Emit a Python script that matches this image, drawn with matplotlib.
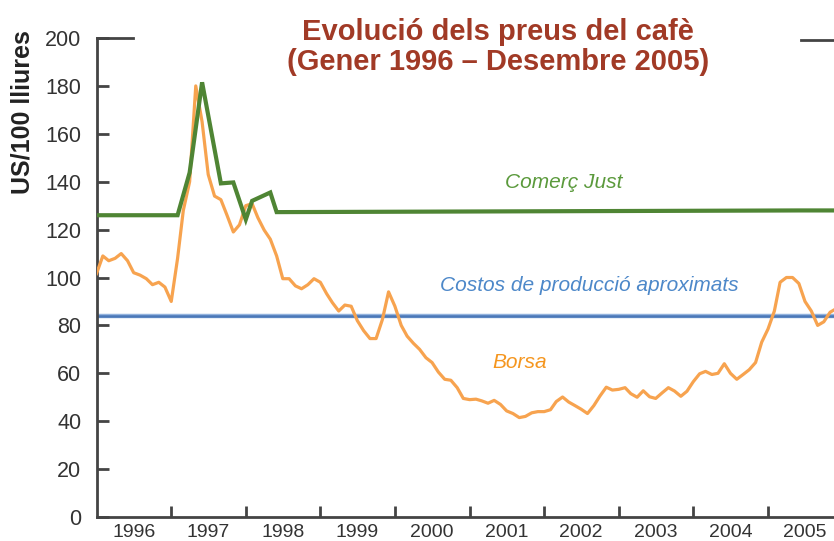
import pandas as pd
import matplotlib
matplotlib.use('Agg')
import matplotlib.pyplot as plt

plt.rcParams['font.family'] = ['Liberation Sans', 'DejaVu Sans']

# monthly market price (Borsa), Jan 1996 - Dec 2005, US cents / lb
months = pd.date_range('1996-01-01', periods=120, freq='MS')
borsa = [101.6, 109, 107, 108, 110, 107, 102, 101, 99.5, 97, 98, 96,
         90, 108, 128, 140, 180, 165, 143, 134, 132.5, 126, 119, 122,
         130, 130.8, 125, 119.8, 116, 109, 99.5, 99.5, 96.5, 95.3, 97, 99.5,
         98, 93.2, 89.5, 86, 88.5, 88, 82, 77.8, 74.5, 74.5, 82.5, 94,
         88, 80, 75.5, 72.5, 70, 66.5, 64.5, 60.5, 57.5, 57.1, 54, 49.5,
         49, 49.2, 48.5, 47.5, 48.7, 47, 44.3, 43.2, 41.5, 42, 43.5, 44,
         44, 44.8, 48.2, 50.1, 48, 46.5, 45, 43.2, 46.5, 50.5, 54.2, 53,
         53.3, 54, 51.5, 50, 52.7, 50.2, 49.5, 51.8, 54, 52.6, 50.4, 52.5,
         56.5, 59.8, 60.8, 59.5, 60, 64, 60, 57.5, 59.5, 61.5, 64.5, 73,
         78.5, 86, 98, 100, 100, 97.5, 90, 86, 80, 81.5, 85.5, 87]

# fair trade price (Comerç Just)
just_dates = pd.to_datetime(['1996-01-01', '1997-02-01', '1997-04-01', '1997-06-01',
                             '1997-09-01', '1997-11-01', '1998-01-01', '1998-02-01',
                             '1998-05-01', '1998-06-01', '2005-06-01', '2005-12-01'])
just = [126, 126, 143.8, 181.5, 139.3, 139.7, 124.2, 132, 135.5, 127.3, 128, 128]

# approximate production cost
cost = 84

years = list(range(1996, 2006))

fig = plt.figure(figsize=(8.34, 5.41), dpi=100)
ax = fig.add_axes([96.5 / 834, 24 / 541, 1 - 96.5 / 834, 479 / 541])

ax.axhline(cost, color='#93b3de', lw=3.2, zorder=2)
ax.axhline(cost, color='#4a78b8', lw=1.8, zorder=2)
ax.plot(months, borsa, color='#f7a34f', lw=2.3, solid_joinstyle='round', zorder=3)
ax.plot(just_dates, just, color='#4f8534', lw=3.0, solid_joinstyle='miter', zorder=4)

ax.text(pd.Timestamp('2002-04-07'), 139.5, 'Comerç Just', color='#5b9a3c',
        style='italic', fontsize=15, ha='center', va='center')
ax.text(pd.Timestamp('2002-08-12'), 96.7, 'Costos de producció aproximats', color='#4d88c9',
        style='italic', fontsize=15, ha='center', va='center')
ax.text(pd.Timestamp('2001-09-05'), 64.6, 'Borsa', color='#f5961f',
        style='italic', fontsize=15, ha='center', va='center')

ax.set_ylim(0, 200)
ax.set_xlim(pd.Timestamp('1996-01-01'), pd.Timestamp('2005-11-20'))
ax.set_yticks(range(0, 201, 20))

ax.set_xticks([pd.Timestamp(f'{y}-01-01') for y in years[1:]])
ax.set_xticks([pd.Timestamp(f'{y}-07-01') for y in years], minor=True)
ax.set_xticklabels([])
ax.set_xticklabels([str(y) for y in years], minor=True)

for s in ['top', 'right']:
    ax.spines[s].set_visible(False)
for s in ['left', 'bottom']:
    ax.spines[s].set_color('#444444')
    ax.spines[s].set_linewidth(2.0)

ax.tick_params(axis='y', direction='in', length=8.5, width=2.0, color='#444444',
               labelsize=15.5, labelcolor='#333333', pad=11)
ax.tick_params(axis='x', which='major', direction='in', length=8, width=2.0, color='#444444')
ax.tick_params(axis='x', which='minor', length=0, labelsize=14, labelcolor='#333333', pad=5)

# broken frame at the top
ax.plot([0, 0.05], [1, 1], transform=ax.transAxes, color='#444444', lw=2.0, clip_on=False)
ax.plot([0.955, 1.0], [0.996, 0.996], transform=ax.transAxes, color='#444444', lw=2.0, clip_on=False)

fig.text(23 / 834, 1 - 112 / 541, 'US/100 lliures', rotation=90, fontsize=18,
         fontweight='bold', color='#222222', ha='center', va='center')
fig.text(498 / 834, 1 - 47 / 541, 'Evolució dels preus del cafè\n(Gener 1996 – Desembre 2005)',
         fontsize=21, fontweight='bold', color='#a13a26', ha='center', va='center',
         linespacing=1.12)

fig.savefig('out.png', dpi=100)
